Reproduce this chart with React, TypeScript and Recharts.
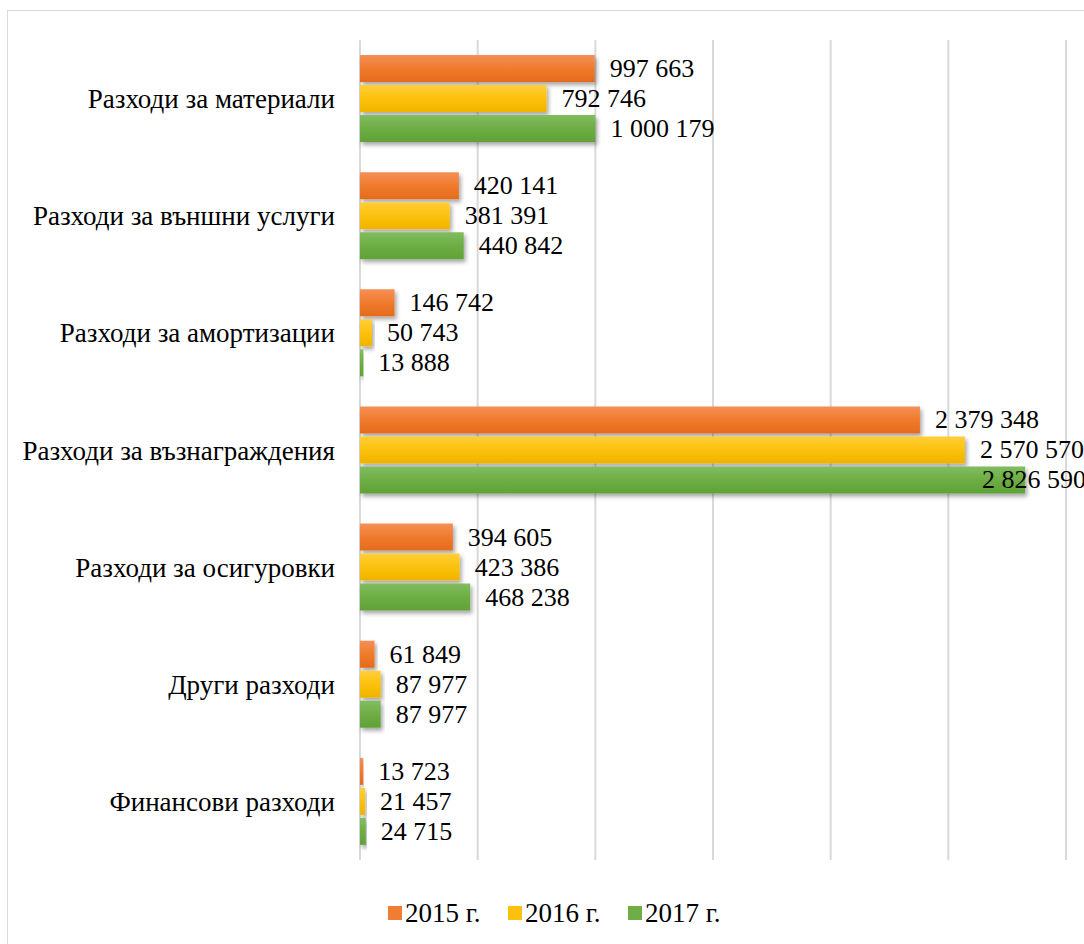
import React from 'react';
import {
  BarChart,
  Bar,
  XAxis,
  YAxis,
  CartesianGrid,
  Legend,
  LabelList,
} from 'recharts';

// Категории (отгоре надолу)
const CATEGORIES = [
  'Разходи за материали',
  'Разходи за външни услуги',
  'Разходи за амортизации',
  'Разходи за възнаграждения',
  'Разходи за осигуровки',
  'Други разходи',
  'Финансови разходи',
];

const Y2015 = [997663, 420141, 146742, 2379348, 394605, 61849, 13723];
const Y2016 = [792746, 381391, 50743, 2570570, 423386, 87977, 21457];
const Y2017 = [1000179, 440842, 13888, 2826590, 468238, 87977, 24715];

const X_TICKS = [0, 500000, 1000000, 1500000, 2000000, 2500000, 3000000];

const SERIES = [
  { key: 'y2015', name: '2015 г.', grad: 'gOrange', color: '#ef7d32' },
  { key: 'y2016', name: '2016 г.', grad: 'gYellow', color: '#fcc10e' },
  { key: 'y2017', name: '2017 г.', grad: 'gGreen', color: '#6fad47' },
];

const data = CATEGORIES.map((name, i) => ({
  name,
  y2015: Y2015[i],
  y2016: Y2016[i],
  y2017: Y2017[i],
}));

const FONT = '"Liberation Serif", "Times New Roman", serif';
const CHART_W = 1084;
const LABEL_SIZE = 26;

const fmt = (v: any) => String(v).replace(/\B(?=(\d{3})+(?!\d))/g, ' ');

// Етикет вдясно от лентата; ако не се побира, се прибира до десния край (като в Excel)
function ValueLabel(props: any) {
  const { x, y, width, height, value } = props;
  const text = fmt(value);
  const spaces = (text.match(/ /g) || []).length;
  const estW = (text.length - spaces) * LABEL_SIZE * 0.5 + spaces * LABEL_SIZE * 0.25;
  let tx = Number(x) + Number(width) + 15;
  if (tx + estW > CHART_W + 2) tx = CHART_W + 2 - estW;
  return (
    <text
      x={tx}
      y={Number(y) + Number(height) / 2}
      dominantBaseline="central"
      fontFamily={FONT}
      fontSize={LABEL_SIZE}
      fill="#000"
    >
      {text}
    </text>
  );
}

function LegendContent() {
  return (
    <div style={{ display: 'flex', fontFamily: FONT, fontSize: 27, color: '#000', lineHeight: '30px' }}>
      {SERIES.map((s) => (
        <div key={s.key} style={{ display: 'flex', alignItems: 'center', width: 120 }}>
          <span
            style={{
              display: 'inline-block',
              width: 14,
              height: 14,
              marginRight: 3,
              background: s.color,
            }}
          />
          <span>{s.name}</span>
        </div>
      ))}
    </div>
  );
}

export default function App() {
  return (
    <div style={{ position: 'absolute', left: 0, top: 0, width: CHART_W, height: 944, overflow: 'hidden', background: '#fff', fontFamily: FONT }}>
      <div
        style={{
          position: 'absolute',
          left: 7,
          top: 10,
          width: 1120,
          height: 980,
          border: '1px solid #d9d9d9',
        }}
      />
      <div style={{ position: 'absolute', left: 0, top: 0 }}>
        <BarChart
          width={CHART_W}
          height={944}
          data={data}
          layout="vertical"
          margin={{ top: 40, right: 18, bottom: 54, left: 8 }}
          barGap={3}
          barSize={27}
        >
          <defs>
            <linearGradient id="gOrange" x1="0" y1="0" x2="0" y2="1">
              <stop offset="0%" stopColor="#f49057" />
              <stop offset="50%" stopColor="#f07a2c" />
              <stop offset="100%" stopColor="#e56b1c" />
            </linearGradient>
            <linearGradient id="gYellow" x1="0" y1="0" x2="0" y2="1">
              <stop offset="0%" stopColor="#ffcf3a" />
              <stop offset="50%" stopColor="#fcc10a" />
              <stop offset="100%" stopColor="#efb300" />
            </linearGradient>
            <linearGradient id="gGreen" x1="0" y1="0" x2="0" y2="1">
              <stop offset="0%" stopColor="#82bd60" />
              <stop offset="50%" stopColor="#6dad44" />
              <stop offset="100%" stopColor="#60a236" />
            </linearGradient>
            <filter id="shadow" x="-10%" y="-30%" width="130%" height="180%">
              <feDropShadow dx="2" dy="3" stdDeviation="2" floodColor="#000" floodOpacity="0.35" />
            </filter>
          </defs>
          <CartesianGrid horizontal={false} stroke="#d9d9d9" strokeWidth={2} />
          <XAxis type="number" domain={[0, 3000000]} ticks={X_TICKS} hide />
          <YAxis
            type="category"
            dataKey="name"
            width={352}
            axisLine={false}
            tickLine={false}
            tickSize={0}
            tickMargin={25}
            tick={{ fontFamily: FONT, fontSize: 27, fill: '#000' }}
            interval={0}
          />
          {SERIES.map((s) => (
            <Bar
              key={s.key}
              dataKey={s.key}
              name={s.name}
              fill={`url(#${s.grad})`}
              filter="url(#shadow)"
              isAnimationActive={false}
            >
              <LabelList dataKey={s.key} content={<ValueLabel />} />
            </Bar>
          ))}
          <Legend
            verticalAlign="bottom"
            content={<LegendContent />}
            wrapperStyle={{ left: 388, width: 400, bottom: 16 }}
          />
        </BarChart>
      </div>
    </div>
  );
}
